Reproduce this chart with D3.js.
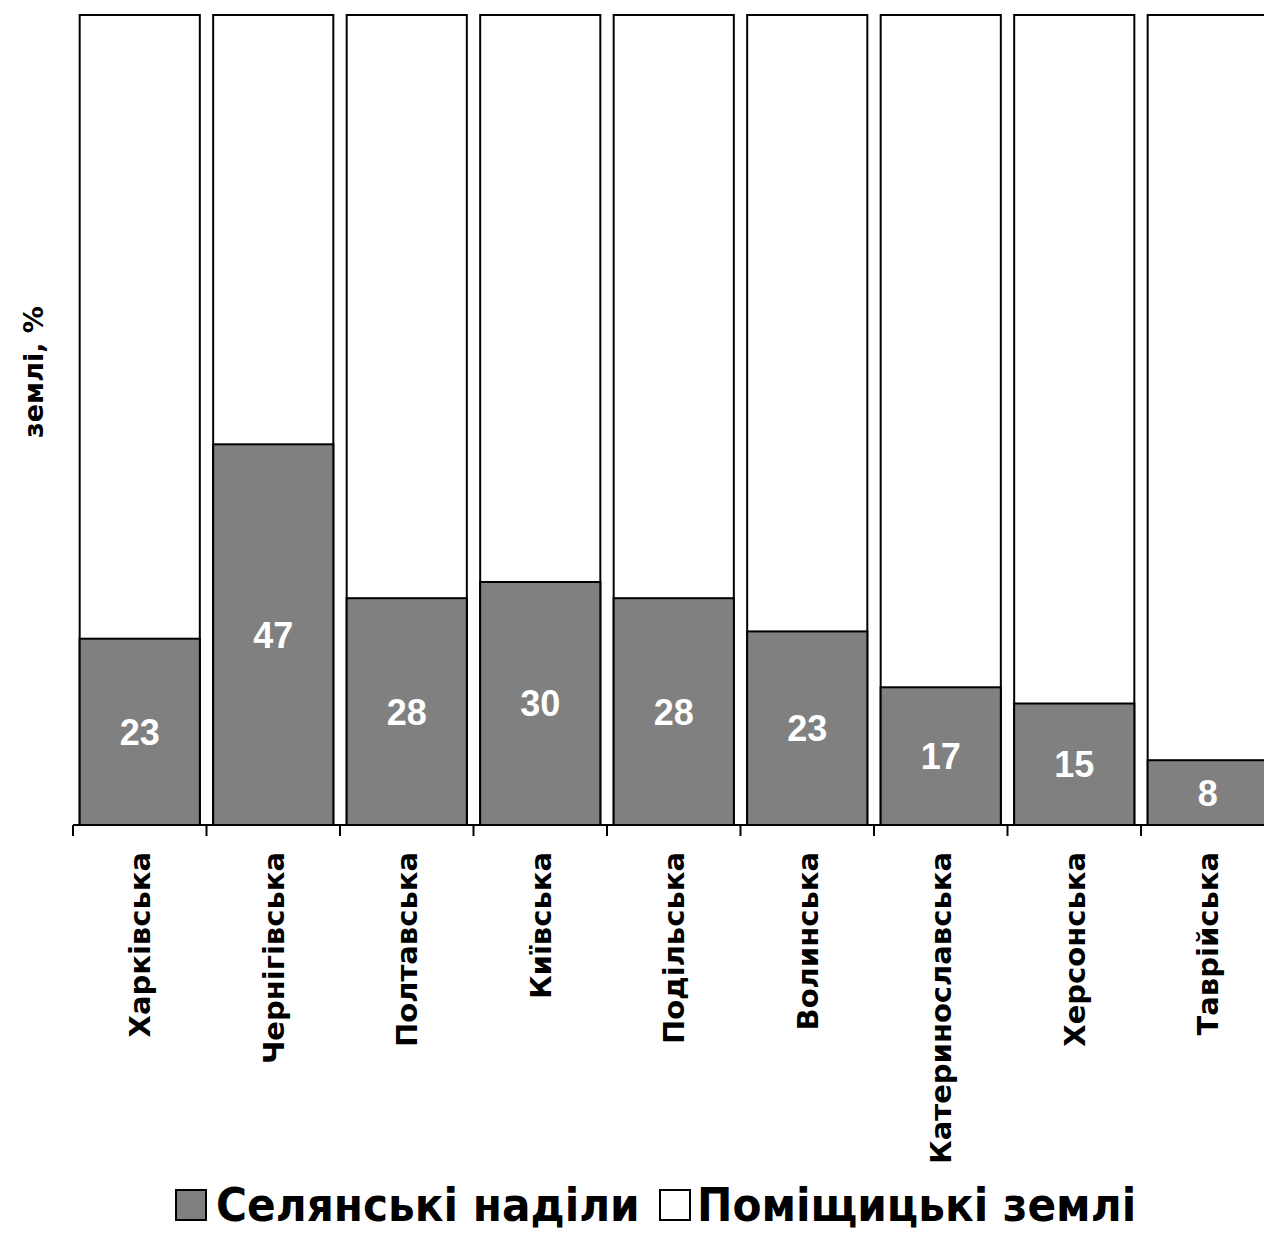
<!DOCTYPE html>
<html>
<head>
<meta charset="utf-8">
<script src="https://cdn.jsdelivr.net/npm/d3@7"></script>
<style>
  body { margin: 0; background: #fff; }
  svg { display: block; }
</style>
</head>
<body>
<svg id="viz"></svg>
<script>
// ----------------------- DATA
const regions = ['Харківська', 'Чернігівська', 'Полтавська', 'Київська', 'Подільська',
  'Волинська', 'Катеринославська', 'Херсонська', 'Таврійська'];
// селянські наділи, %
const peasant = [23, 47, 28, 30, 28, 23.9, 17, 15, 8];
// values as printed on the bars
const peasantLabels = ['23', '47', '28', '30', '28', '23', '17', '15', '8'];
const seriesNames = ['Селянські наділи', 'Поміщицькі землі'];
const yTitle = 'землі, %';

// ----------------------- SETTINGS
const W = 1264, H = 1234;
const plot = { left: 73, right: 1274.5, top: 15, bottom: 825 };

const svg = d3.select('#viz')
  .attr('width', W)
  .attr('height', H);

const x = d3.scaleBand()
  .domain(regions)
  .range([plot.left, plot.right])
  .paddingInner(0.1)
  .paddingOuter(0.05);

const y = d3.scaleLinear()
  .domain([0, 100])
  .range([plot.bottom, plot.top]);

const rows = regions.map((r, i) => ({ region: r, peasant: peasant[i], label: peasantLabels[i] }));

// ----------------------- BARS
// landlord part (whole bar, white)
svg.append('g').selectAll('rect')
  .data(rows)
  .enter().append('rect')
  .attr('x', d => x(d.region))
  .attr('y', y(100))
  .attr('width', x.bandwidth())
  .attr('height', y(0) - y(100))
  .attr('fill', '#fff')
  .attr('stroke', '#000')
  .attr('stroke-width', 2);

// peasant part (grey)
svg.append('g').selectAll('rect')
  .data(rows)
  .enter().append('rect')
  .attr('x', d => x(d.region))
  .attr('y', d => y(d.peasant))
  .attr('width', x.bandwidth())
  .attr('height', d => y(0) - y(d.peasant))
  .attr('fill', '#808080')
  .attr('stroke', '#000')
  .attr('stroke-width', 2);

// value labels
svg.append('g').selectAll('text')
  .data(rows)
  .enter().append('text')
  .attr('x', d => x(d.region) + x.bandwidth() / 2)
  .attr('y', d => (y(0) + y(d.peasant)) / 2)
  .attr('dy', '0.36em')
  .attr('text-anchor', 'middle')
  .attr('fill', '#fff')
  .style('font', 'bold 36px "Liberation Sans", Arial, sans-serif')
  .text(d => d.label);

// ----------------------- AXIS
const axisG = svg.append('g')
  .attr('transform', `translate(0, ${plot.bottom})`)
  .call(d3.axisBottom(x).tickSize(0).tickFormat(''));
axisG.selectAll('.tick').remove();
axisG.select('.domain').attr('stroke-width', 2).attr('d', `M${plot.left},0H${plot.right}`);
// ticks at band edges
axisG.selectAll('.edge')
  .data(regions)
  .enter().append('line')
  .attr('x1', d => x(d) - x.step() * x.paddingInner() / 2)
  .attr('x2', d => x(d) - x.step() * x.paddingInner() / 2)
  .attr('y1', 0)
  .attr('y2', 11)
  .attr('stroke', '#000')
  .attr('stroke-width', 2);

// category labels, rotated
svg.append('g').selectAll('text')
  .data(regions)
  .enter().append('text')
  .attr('transform', d => `translate(${x(d) + x.bandwidth() / 2}, 852) rotate(-90)`)
  .attr('dy', '0.36em')
  .attr('text-anchor', 'end')
  .style('font', 'bold 29px "DejaVu Sans", sans-serif')
  .text(d => d);

// y title
svg.append('text')
  .attr('transform', 'translate(33, 372) rotate(-90)')
  .attr('dy', '0.36em')
  .attr('text-anchor', 'middle')
  .style('font', 'bold 27px "DejaVu Sans", sans-serif')
  .text(yTitle);

// ----------------------- LEGEND
const legendFont = 'bold 47px "DejaVu Sans Condensed", "DejaVu Sans", sans-serif';
const legend = svg.append('g');
const swatch = [
  { name: seriesNames[0], fill: '#808080', x: 176, tx: 216 },
  { name: seriesNames[1], fill: '#fff', x: 660, tx: 697 }
];
legend.selectAll('rect')
  .data(swatch)
  .enter().append('rect')
  .attr('x', d => d.x)
  .attr('y', 1190)
  .attr('width', 30)
  .attr('height', 30)
  .attr('fill', d => d.fill)
  .attr('stroke', '#000')
  .attr('stroke-width', 2);
legend.selectAll('text')
  .data(swatch)
  .enter().append('text')
  .attr('x', d => d.tx)
  .attr('y', 1221)
  .style('font', legendFont)
  .text(d => d.name);
</script>
</body>
</html>
